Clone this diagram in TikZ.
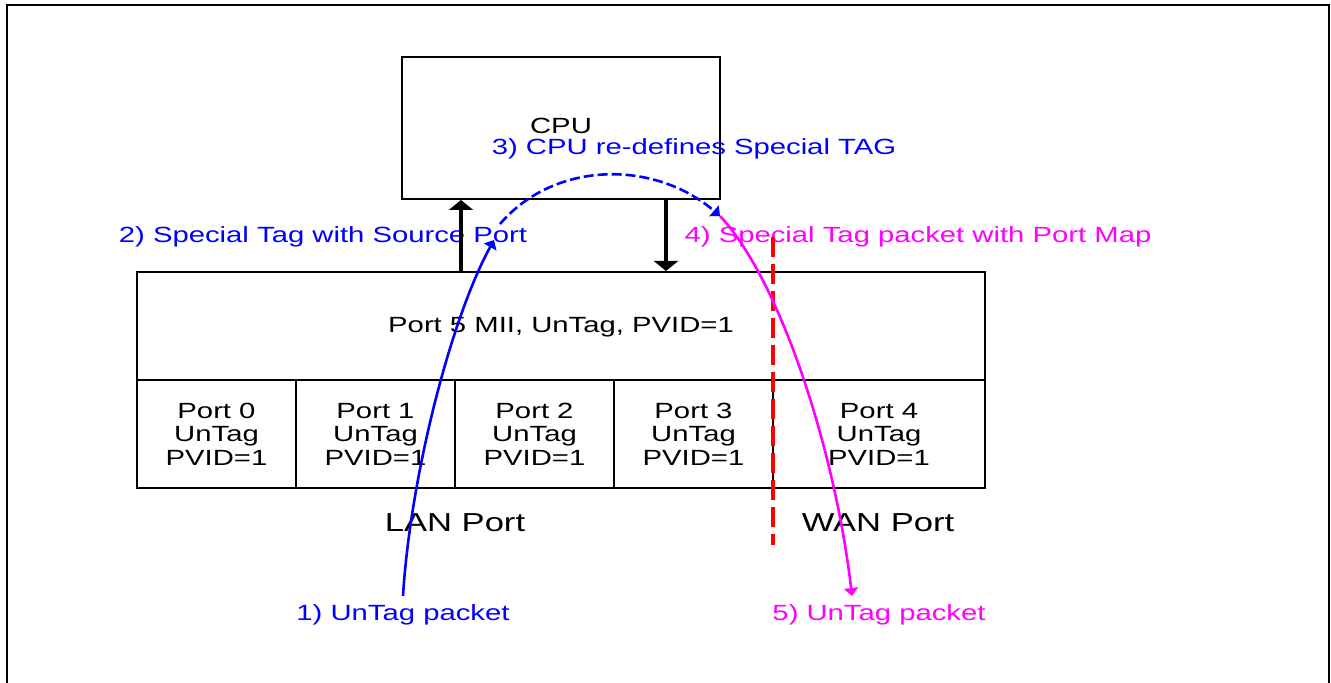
\documentclass[tikz,border=0pt]{standalone}
\usepackage{fontspec}
\setmainfont{Liberation Sans}[FakeStretch=1.33]
\usetikzlibrary{arrows.meta}
\usepackage{xcolor}
\definecolor{pktblue}{RGB}{0,0,255}
\definecolor{pktmag}{RGB}{255,0,255}

\begin{document}
\begin{tikzpicture}[x=0.5pt,y=-0.5pt]
    \useasboundingbox (0,0) rectangle (1331,683);
    % outer frame
    \draw[line width=1pt] (7,683) |- (1329,5) -- (1329,683);

    \begin{scope}[every node/.style={rectangle,draw,line width=1pt,inner sep=0pt,
        align=center,font=\fontsize{11}{11.75}\selectfont}]
      \node[minimum width=159pt,minimum height=71pt] (cpu) at (561,128) {};
      \node[minimum width=424pt,minimum height=54pt] (mii) at (561,326) {};
      \node[minimum width=79.5pt,minimum height=54pt] (p0) at (216.5,434) {Port 0\\UnTag\\PVID=1};
      \node[minimum width=79.5pt,minimum height=54pt] (p1) at (375.5,434) {Port 1\\UnTag\\PVID=1};
      \node[minimum width=79.5pt,minimum height=54pt] (p2) at (534.5,434) {Port 2\\UnTag\\PVID=1};
      \node[minimum width=79.5pt,minimum height=54pt] (p3) at (693.5,434) {Port 3\\UnTag\\PVID=1};
      \node[minimum width=106pt,minimum height=54pt] (p4) at (879,434) {Port 4\\UnTag\\PVID=1};
    \end{scope}

    \begin{scope}[every node/.style={anchor=base,inner sep=0pt,font=\fontsize{11}{13}\selectfont}]
      \node (cputxt) at (561,134) {CPU};
      \node (miitxt) at (561,333) {Port 5 MII, UnTag, PVID=1};
      \node[font=\fontsize{13}{15}\selectfont] (lan) at (455,531) {LAN Port};
      \node[font=\fontsize{13}{15}\selectfont] (wan) at (878,531) {WAN Port};
      \node[text=pktblue] (step1) at (403,620) {1) UnTag packet};
      \node[text=pktblue] (step2) at (323,243) {2) Special Tag with Source Port};
      \node[text=pktblue] (step3) at (694,155) {3) CPU re-defines Special TAG};
      \node[text=pktmag] (step4) at (918,243) {4) Special Tag packet with Port Map};
      \node[text=pktmag] (step5) at (879,620) {5) UnTag packet};
    \end{scope}

    % links between switch and cpu
    \coordinate (upx) at (461,0);
    \coordinate (dnx) at (666,0);
    \begin{scope}[>={Triangle[width=12pt,length=5pt]},line width=2.4pt]
      \draw[->] (mii.north -| upx) -- (cpu.south -| upx);
      \draw[->] (cpu.south -| dnx) -- (mii.north -| dnx);
    \end{scope}

    % LAN / WAN split
    \coordinate (wtop) at (773,237);
    \coordinate (wbot) at (773,545);
    \draw[red,line width=2pt,dash pattern=on 10pt off 3.5pt] (wtop) -- (wbot);

    % packet path
    \coordinate (in) at (403,596);
    \coordinate (tag) at (494,240);
    \coordinate (arc) at (500,224);
    \coordinate (back) at (720,216);
    \coordinate (out) at (852,596);
    \begin{scope}[>={Triangle[width=7pt,length=4pt]},line width=1.3pt]
      \draw[pktblue,->] (in) .. controls (410,480) and (450,320) .. (tag);
      \draw[pktblue,->,dash pattern=on 5pt off 2pt] (arc) .. controls (555,160) and (655,160) .. (back);
      \draw[pktmag,->] (back) .. controls (780,280) and (835,450) .. (out);
    \end{scope}
\end{tikzpicture}
\end{document}
